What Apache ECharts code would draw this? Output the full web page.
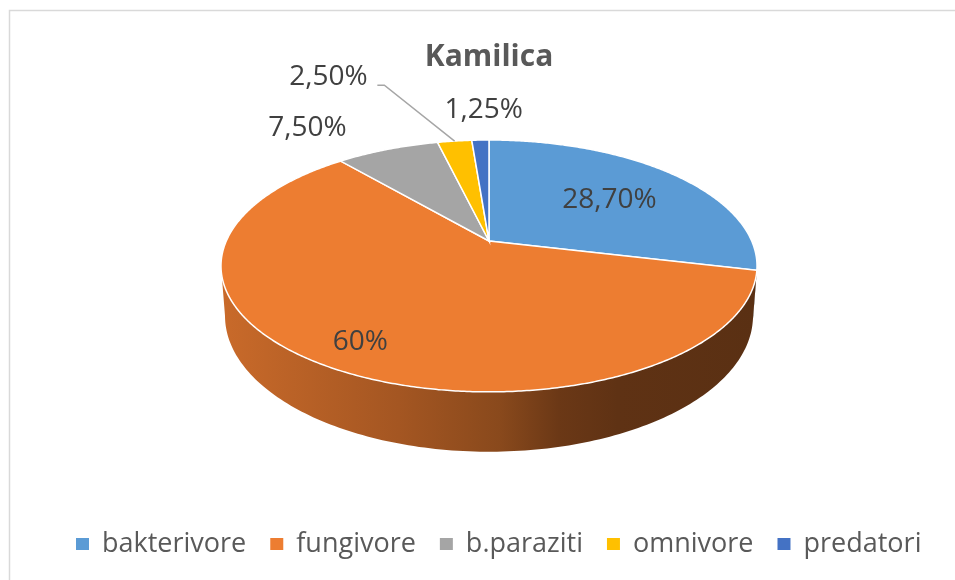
<!DOCTYPE html>
<html>
<head>
<meta charset="utf-8">
<script src="https://cdn.jsdelivr.net/npm/echarts@6/dist/echarts.min.js"></script>
<style>
  html, body { margin: 0; padding: 0; background: #fff; }
  #main { width: 955px; height: 580px; }
</style>
</head>
<body>
<div id="main"></div>
<script>
const categories = ["bakterivore", "fungivore", "b.paraziti", "omnivore", "predatori"]
const values = [28.7, 60, 7.5, 2.5, 1.25]
const colors = ["#5b9bd5", "#ed7d31", "#a5a5a5", "#ffc000", "#4472c4"]

// 3d pie look (screen px): apex, radii, perspective, thickness
const CX = 489, CY = 241, RX = 262.7, RY = 121, K = 0.198, DEPTH = 48
// label placement: [radius in pie units, angle shift from slice middle in deg]
const labelPlace = [[0.61, 2], [0.83, -1], [1.43, -9.4], [2.03, -15.3], [1.38, 1.2]]
const withLeader = [false, false, false, true, false]

const total = values.reduce((a, b) => a + b, 0)
const starts = []
let acc = 0
values.forEach(v => { starts.push(acc / total * 360); acc += v })

// side of the cake is only seen between the left and right extremes
const SIDE_R = Math.acos(-K) * 180 / Math.PI
const SIDE_L = 360 - SIDE_R

function proj(r, deg, depth) {
  const t = deg * Math.PI / 180
  const u = r * Math.sin(t), v = -r * Math.cos(t)
  const s = 1 / (1 - K * v)
  const shrink = depth ? 0.985 : 1
  return [CX + RX * u * s * shrink, CY + RY * v * s + (depth || 0) * s]
}

function shade(hex, f) {
  const n = parseInt(hex.slice(1), 16)
  const r = Math.round(((n >> 16) & 255) * f), g = Math.round(((n >> 8) & 255) * f), b = Math.round((n & 255) * f)
  return "rgb(" + r + "," + g + "," + b + ")"
}

function sideFill(c) {
  return new echarts.graphic.LinearGradient(222, 0, 757, 0, [
    { offset: 0, color: shade(c, 0.85) },
    { offset: 0.33, color: shade(c, 0.69) },
    { offset: 0.52, color: shade(c, 0.58) },
    { offset: 0.63, color: shade(c, 0.45) },
    { offset: 0.74, color: shade(c, 0.4) },
    { offset: 1, color: shade(c, 0.38) },
  ], true)
}

function fmt(v) {
  return (v % 1 === 0 ? String(v) : v.toFixed(2).replace(".", ",")) + "%"
}

function renderSlice(i) {
  return function (params, api) {
    const a0 = starts[i]
    const a1 = a0 + api.value(0) / total * 360
    const children = []

    const s0 = Math.max(a0, SIDE_R), s1 = Math.min(a1, SIDE_L)
    if (s1 > s0) {
      const pts = []
      for (let a = s0; a < s1; a += 1) pts.push(proj(1, a, 0))
      pts.push(proj(1, s1, 0))
      for (let a = s1; a > s0; a -= 1) pts.push(proj(1, a, DEPTH))
      pts.push(proj(1, s0, DEPTH))
      children.push({ type: "polygon", shape: { points: pts }, style: { fill: sideFill(colors[i]) } })
    }

    const top = [[CX, CY]]
    for (let a = a0; a < a1; a += 0.5) top.push(proj(1, a, 0))
    top.push(proj(1, a1, 0))
    children.push({
      type: "polygon", shape: { points: top },
      style: { fill: colors[i], stroke: "#fff", lineWidth: 1.5 },
    })

    const mid = (a0 + a1) / 2
    const p = proj(labelPlace[i][0], mid + labelPlace[i][1], 0)
    if (withLeader[i]) {
      const end = proj(1, mid, 0)
      children.push({
        type: "polyline",
        shape: { points: [[p[0] + 49, p[1] + 8], [p[0] + 56, p[1] + 8], end] },
        style: { stroke: "#a6a6a6", lineWidth: 1.5, fill: null },
      })
    }
    children.push({
      type: "text", x: p[0], y: p[1],
      style: {
        text: fmt(api.value(0)), fill: "#404040", fontSize: 28, fontFamily: "Open Sans",
        align: "center", verticalAlign: "middle",
      },
    })
    return { type: "group", children }
  }
}

const myChart = echarts.init(document.getElementById("main"))

myChart.setOption({
  animation: false,
  title: {
    text: "Kamilica",
    left: 489,
    top: 39,
    textAlign: "center",
    padding: 0,
    textStyle: { fontSize: 30, fontWeight: "bold", fontFamily: "Open Sans", color: "#595959", lineHeight: 36 },
  },
  legend: {
    top: 529,
    left: 76,
    padding: 0,
    icon: "rect",
    itemWidth: 13,
    itemHeight: 12,
    itemGap: 24,
    textStyle: { fontSize: 27, fontFamily: "Open Sans", color: "#595959", lineHeight: 30, padding: [0, 0, 0, 8] },
    data: categories,
  },
  graphic: [{
    type: "rect", silent: true, z: -10,
    shape: { x: 9.5, y: 10.5, width: 1000, height: 1000 },
    style: { fill: "none", stroke: "#d9d9d9", lineWidth: 1.5 },
  }],
  series: categories.map((name, i) => ({
    type: "custom",
    name,
    coordinateSystem: "none",
    silent: true,
    itemStyle: { color: colors[i] },
    renderItem: renderSlice(i),
    data: [[values[i]]],
  })),
})
</script>
</body>
</html>
